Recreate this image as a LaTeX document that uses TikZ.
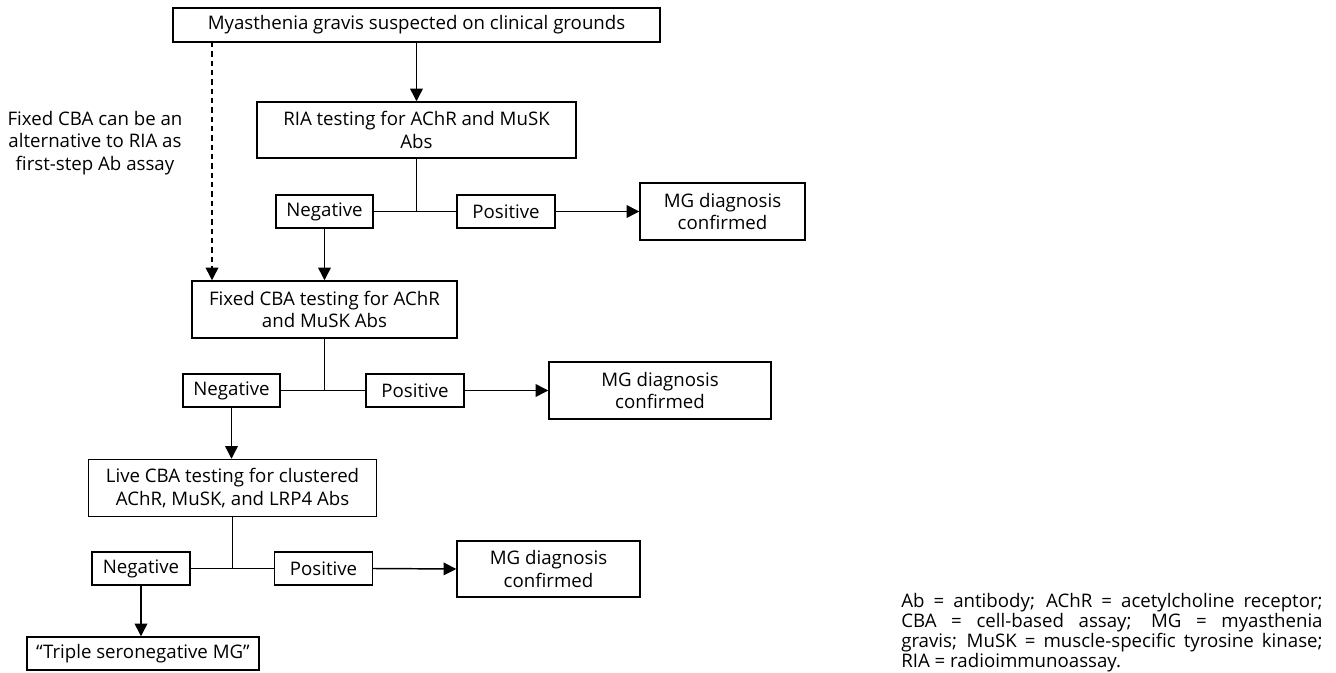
\documentclass[tikz,border=0pt]{standalone}
\usepackage{fontspec}
\setmainfont{Open Sans}
\usetikzlibrary{arrows.meta}
\begin{document}
\begin{tikzpicture}[x=0.75pt,y=-0.75pt,
  box/.style={draw, line width=1.1pt, inner sep=0pt, align=center, font=\fontsize{14}{16.6}\selectfont},
  arr/.style={line width=1.1pt, -{Triangle[length=9.5pt,width=9.5pt]}},
  ln/.style={line width=1.1pt},
  dsh/.style={line width=1.1pt, dash pattern=on 4pt off 3pt, -{Triangle[length=9.5pt,width=9.5pt]}}]
\useasboundingbox (0,0) rectangle (1336,673);
% boxes
\node[box, minimum width={487*0.75pt}, minimum height={34*0.75pt}] (top) at (416.5,25) {Myasthenia gravis suspected on clinical grounds};
\node[box, minimum width={319*0.75pt}, minimum height={56*0.75pt}] (ria) at (416.5,130) {RIA testing for AChR and MuSK\\Abs};
\node[box, minimum width={97*0.75pt}, minimum height={33*0.75pt}] (neg1) at (324.5,211.5) {Negative};
\node[box, minimum width={98*0.75pt}, minimum height={33*0.75pt}] (pos1) at (506,211.5) {Positive};
\node[box, minimum width={165*0.75pt}, minimum height={57*0.75pt}] (mg1) at (722.5,211.5) {MG diagnosis\\confirmed};
\node[box, minimum width={265*0.75pt}, minimum height={57*0.75pt}] (fix) at (324.5,309.5) {Fixed CBA testing for AChR\\and MuSK Abs};
\node[box, minimum width={97*0.75pt}, minimum height={33*0.75pt}] (neg2) at (231.5,390.5) {Negative};
\node[box, minimum width={98*0.75pt}, minimum height={33*0.75pt}] (pos2) at (415,390.5) {Positive};
\node[box, minimum width={222*0.75pt}, minimum height={57*0.75pt}] (mg2) at (660,390.5) {MG diagnosis\\confirmed};
\node[box, minimum width={288*0.75pt}, minimum height={57*0.75pt}] (live) at (232.5,488) {Live CBA testing for clustered\\AChR, MuSK, and LRP4 Abs};
\node[box, minimum width={98*0.75pt}, minimum height={33*0.75pt}] (neg3) at (141,568.5) {Negative};
\node[box, minimum width={98*0.75pt}, minimum height={33*0.75pt}] (pos3) at (323.5,568.5) {Positive};
\node[box, minimum width={183*0.75pt}, minimum height={56*0.75pt}] (mg3) at (548.5,569) {MG diagnosis\\confirmed};
\node[box, minimum width={232*0.75pt}, minimum height={33*0.75pt}] (triple) at (143,653.5) {“Triple seronegative MG”};
% left note
\node[align=center, inner sep=0pt, font=\fontsize{14}{16.9}\selectfont] (note) at (95,143) {Fixed CBA can be an\\alternative to RIA as\\first-step Ab assay};
% legend
\node[anchor=north west, inner sep=0pt] (legend) at (901,593) {\parbox[t]{316pt}{\fontsize{14}{15}\selectfont\baselineskip=15pt\parindent=0pt\parfillskip=0pt plus 1fil Ab = antibody; AChR = acetylcholine receptor;\linebreak CBA = cell-based assay; MG = myasthenia\linebreak gravis; MuSK = muscle-specific tyrosine kinase;\linebreak RIA = radioimmunoassay.\par}};
% junctions
\coordinate (j1) at (ria.south |- neg1.east);
\coordinate (j2) at (fix.south |- neg2.east);
\coordinate (j3) at (live.south |- neg3.east);
\coordinate (dtop) at (212,42);
% connectors
\draw[arr] (top.south -| ria.north) -- (ria.north);
\draw[ln] (ria.south) -- (j1);
\draw[ln] (neg1.east) -- (pos1.west);
\draw[arr] (pos1.east) -- (mg1.west);
\draw[arr] (neg1.south) -- (fix.north -| neg1.south);
\draw[dsh] (dtop) -- (fix.north -| dtop);
\draw[ln] (fix.south) -- (j2);
\draw[ln] (neg2.east) -- (pos2.west);
\draw[arr] (pos2.east) -- (mg2.west);
\draw[arr] (neg2.south) -- (live.north -| neg2.south);
\draw[ln] (live.south) -- (j3);
\draw[ln] (neg3.east) -- (pos3.west);
\draw[arr] (pos3.east) -- (mg3.west);
\draw[arr] (neg3.south) -- (triple.north -| neg3.south);
\end{tikzpicture}
\end{document}
